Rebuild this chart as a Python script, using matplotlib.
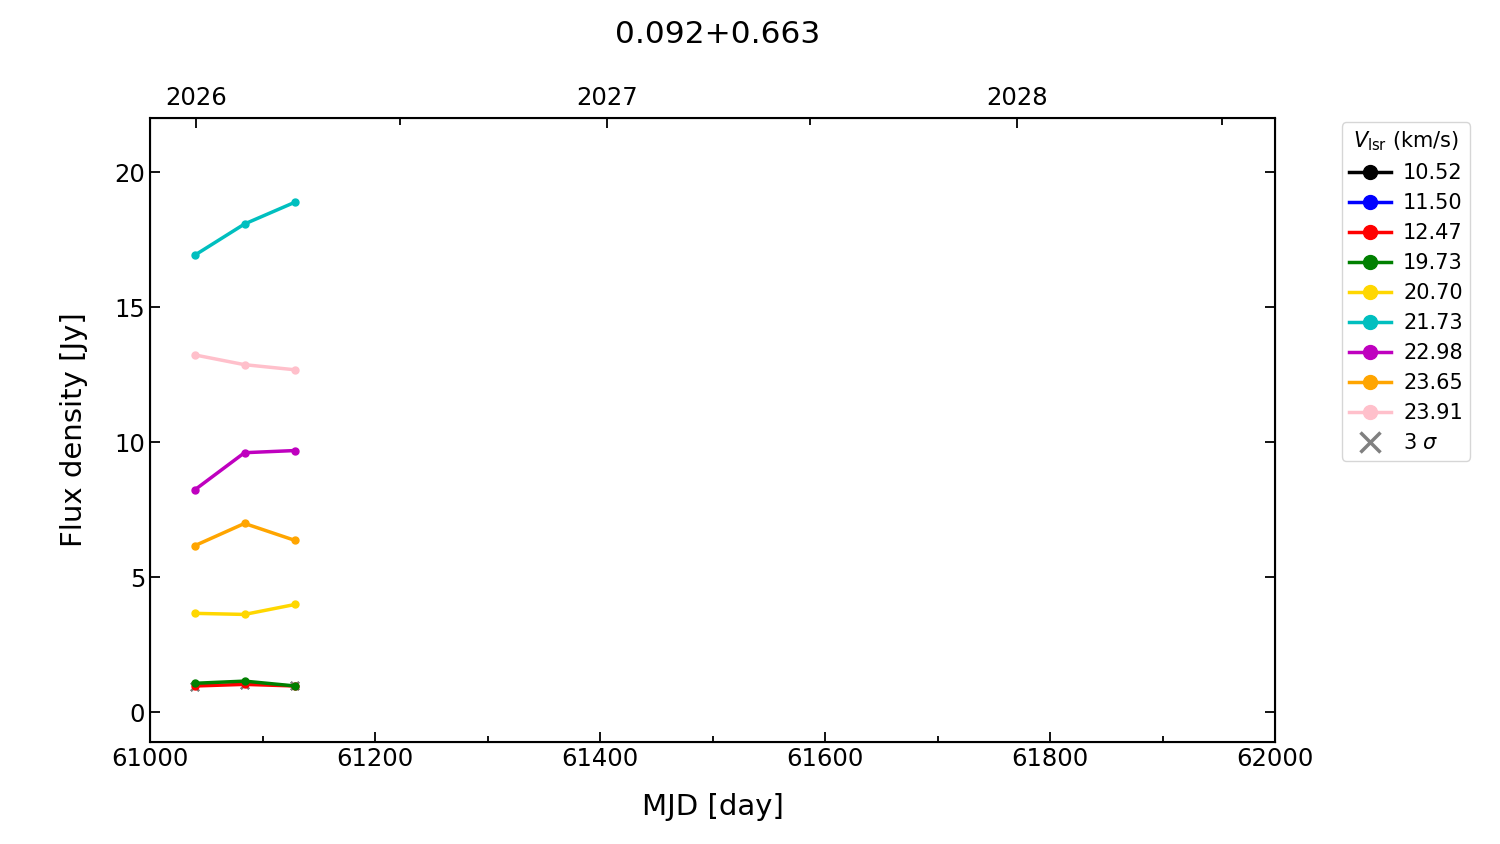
import numpy as np
import matplotlib
matplotlib.use("Agg")
import matplotlib.pyplot as plt
from matplotlib.lines import Line2D
from matplotlib.ticker import MultipleLocator, FixedLocator

mjd = [61040, 61084, 61129]
velocities = ["10.52", "11.50", "12.47", "19.73", "20.70", "21.73", "22.98", "23.65", "23.91"]
colors = ["k", "b", "r", "g", "gold", "c", "m", "orange", "pink"]
flux_1052 = [np.nan, np.nan, np.nan]
flux_1150 = [np.nan, np.nan, np.nan]
flux_1247 = [0.97, 1.03, 0.97]
flux_1973 = [1.07, 1.15, 0.97]
flux_2070 = [3.66, 3.62, 3.99]
flux_2173 = [16.93, 18.08, 18.89]
flux_2298 = [8.24, 9.61, 9.69]
flux_2365 = [6.17, 6.99, 6.36]
flux_2391 = [13.23, 12.87, 12.68]
sigma3 = [0.95, 0.99, 0.96]

year_mjd = [61041, 61406, 61771]
year_labels = ["2026", "2027", "2028"]
halfyear_mjd = [61222, 61587, 61953]

series = [flux_1052, flux_1150, flux_1247, flux_1973, flux_2070,
          flux_2173, flux_2298, flux_2365, flux_2391]

fig = plt.figure(figsize=(15, 8.44), dpi=100)
ax = fig.add_axes([0.1, 0.121, 0.75, 0.739])
for s in ax.spines.values():
    s.set_linewidth(1.5)

handles = []
for v, c, f in zip(velocities, colors, series):
    ax.plot(mjd, f, '-o', color=c, lw=2.5, ms=5)
    handles.append(Line2D([], [], color=c, lw=2.5, marker='o', ms=10, label=v))
for v, c, f in zip(velocities[:3], colors[:3], series[:3]):
    ax.plot(mjd, sigma3, 'x', color='gray', ms=6, mew=1.5, zorder=1)
handles.append(Line2D([], [], color='gray', lw=0, marker='x', ms=14, mew=2.5, label=r'3 $\sigma$'))

ax.set_xlim(61000, 62000)
ax.set_ylim(-1.1, 22)
ax.xaxis.set_major_locator(MultipleLocator(200))
ax.xaxis.set_minor_locator(MultipleLocator(100))
ax.yaxis.set_major_locator(MultipleLocator(5))
ax.tick_params(axis='both', which='both', direction='in', labelsize=17.5, width=1.3)
ax.tick_params(axis='x', which='both', top=False)
ax.tick_params(axis='y', which='both', right=True)
ax.tick_params(which='major', length=7)
ax.tick_params(which='minor', length=4)
ax.set_xlabel("MJD [day]", fontsize=21, labelpad=16)
ax.set_ylabel("Flux density [Jy]", fontsize=21, labelpad=19)

ax2 = ax.twiny()
ax2.set_xlim(ax.get_xlim())
ax2.xaxis.set_major_locator(FixedLocator(year_mjd))
ax2.xaxis.set_minor_locator(FixedLocator(halfyear_mjd))
ax2.set_xticklabels(year_labels)
ax2.tick_params(axis='x', which='both', direction='in', labelsize=17.5, width=1.3, pad=6)
ax2.tick_params(which='major', length=7)
ax2.tick_params(which='minor', length=5)

fig.suptitle("0.092+0.663", fontsize=22.5, x=0.4787, y=0.976)

leg = ax.legend(handles=handles, title=r"$V_{\rm lsr}$ (km/s)", loc='upper left',
          bbox_to_anchor=(1.05, 1.01), fontsize=15, title_fontsize=15,
          handlelength=2.0, handletextpad=0.6, borderpad=0.35, labelspacing=0.48)

fig.savefig("out.png", dpi=100)
